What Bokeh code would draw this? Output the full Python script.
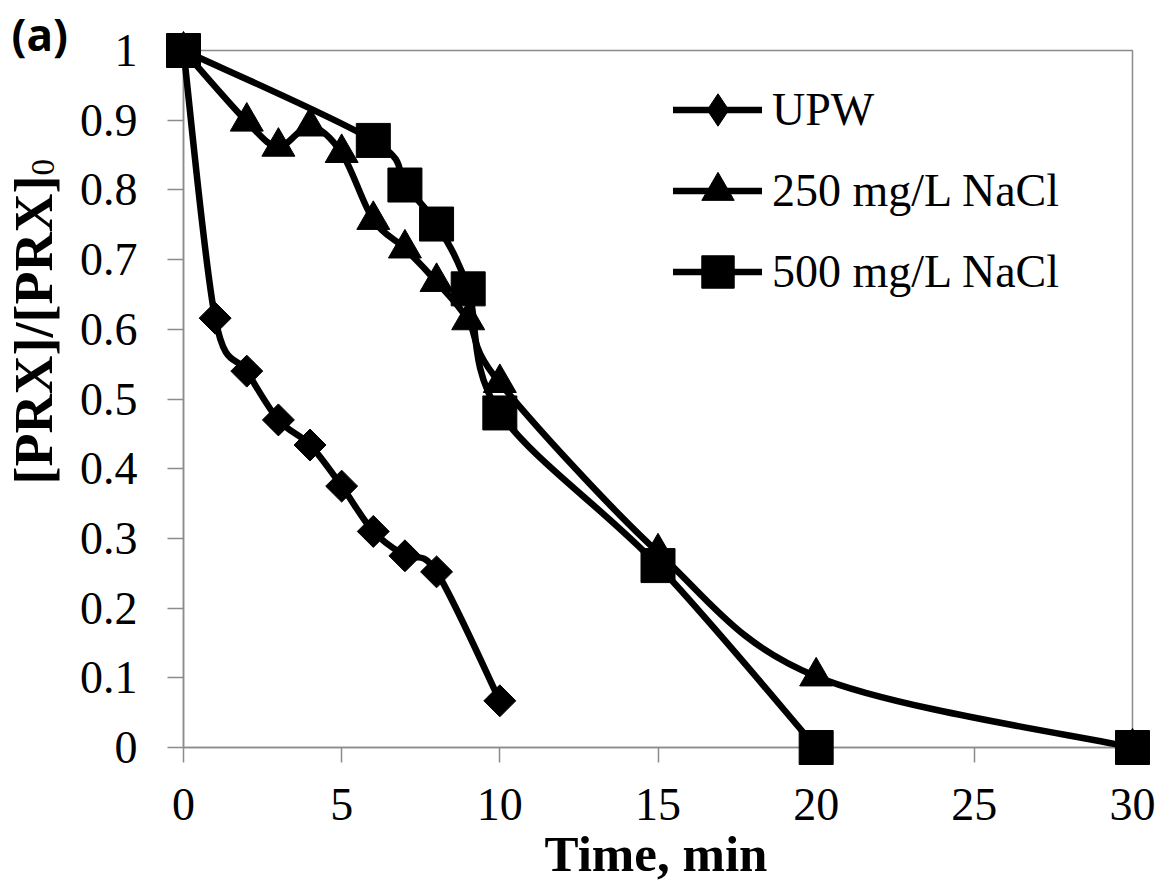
import math
import numpy as np
from bokeh.plotting import figure
from bokeh.models import Legend, LegendItem, FixedTicker, ColumnDataSource
from bokeh.core.properties import value
from bokeh.embed import file_html
from bokeh.resources import INLINE

# ---- data ----
t_upw = [0, 1, 2, 3, 4, 5, 6, 7, 8, 10]
c_upw = [1.0, 0.616, 0.540, 0.470, 0.434, 0.375, 0.310, 0.275, 0.252, 0.067]

t_250 = [0, 2, 3, 4, 5, 6, 7, 8, 9, 10, 15, 20, 30]
c_250 = [1.0, 0.898, 0.862, 0.891, 0.853, 0.757, 0.716, 0.668, 0.613, 0.523, 0.280, 0.102, 0.0]

t_500 = [0, 6, 7, 8, 9, 10, 15, 20, 25, 30]
c_500 = [1.0, 0.871, 0.807, 0.751, 0.658, 0.480, 0.261, 0.0, np.nan, 0.0]

labels = ["UPW", "250 mg/L NaCl", "500 mg/L NaCl"]
x_ticks = [0, 5, 10, 15, 20, 25, 30]
y_ticks = [0, 0.1, 0.2, 0.3, 0.4, 0.5, 0.6, 0.7, 0.8, 0.9, 1.0]
y_tick_labels = ["0", "0.1", "0.2", "0.3", "0.4", "0.5", "0.6", "0.7", "0.8", "0.9", "1"]
x_title = "Time, min"
y_title = "[PRX]/[PRX]"
y_title_sub = "0"
panel_tag = "(a)"

SERIF = "Liberation Serif"
GRAY = "#8c8c8c"
LW = 6.5


def smooth(xs, ys):
    """Excel-like smoothed line: cubic Bezier segments (Catmull-Rom control points)."""
    runs, cur = [], []
    for x, y in zip(xs, ys):
        if y is None or (isinstance(y, float) and math.isnan(y)):
            if cur:
                runs.append(cur)
            cur = []
        else:
            cur.append((x, y))
    if cur:
        runs.append(cur)
    d = dict(x0=[], y0=[], x1=[], y1=[], cx0=[], cy0=[], cx1=[], cy1=[])
    for run in runs:
        n = len(run)
        for i in range(n - 1):
            p0 = run[i - 1] if i > 0 else run[i]
            p1 = run[i]
            p2 = run[i + 1]
            p3 = run[i + 2] if i + 2 < n else run[i + 1]
            d["x0"].append(p1[0]); d["y0"].append(p1[1])
            d["x1"].append(p2[0]); d["y1"].append(p2[1])
            d["cx0"].append(p1[0] + (p2[0] - p0[0]) / 6.0)
            d["cy0"].append(p1[1] + (p2[1] - p0[1]) / 6.0)
            d["cx1"].append(p2[0] - (p3[0] - p1[0]) / 6.0)
            d["cy1"].append(p2[1] - (p3[1] - p1[1]) / 6.0)
    return ColumnDataSource(d)


p = figure(width=1165, height=884, x_range=(0, 30), y_range=(0, 1),
           output_backend="svg", toolbar_location=None,
           min_border_left=183, min_border_right=33,
           min_border_top=50, min_border_bottom=137)
p.title.visible = False
p.xgrid.visible = False
p.ygrid.visible = False
p.outline_line_color = GRAY
p.outline_line_width = 1.5
p.background_fill_color = "white"
p.border_fill_color = "white"

for ax in (p.xaxis[0], p.yaxis[0]):
    ax.axis_line_color = GRAY
    ax.axis_line_width = 1.5
    ax.major_tick_line_color = GRAY
    ax.major_tick_line_width = 1.5
    ax.minor_tick_line_color = None
    ax.major_tick_in = 0
    ax.major_label_text_font = SERIF
    ax.major_label_text_font_size = "46px"
    ax.major_label_text_color = "black"

p.xaxis.ticker = FixedTicker(ticks=x_ticks)
p.xaxis.major_tick_out = 15
p.xaxis.major_label_standoff = 26

p.yaxis.ticker = FixedTicker(ticks=y_ticks)
p.yaxis.major_label_overrides = dict(zip(y_ticks, y_tick_labels))
p.yaxis.major_tick_out = 16
p.yaxis.major_label_standoff = 30

series = [
    (t_upw, c_upw, "square", 22.6, math.pi / 4),
    (t_250, c_250, "triangle", 33, 0.0),
    (t_500, c_500, "square", 34, 0.0),
]

items = []
for (tx, cy, mk, sz, ang), lab in zip(series, labels):
    src = smooth(tx, cy)
    br = p.bezier(x0="x0", y0="y0", x1="x1", y1="y1", cx0="cx0", cy0="cy0",
                  cx1="cx1", cy1="cy1", source=src, line_color="black",
                  line_width=LW, line_cap="round", level="overlay")
    sr = p.scatter(x=tx, y=cy, marker=mk, size=sz, angle=ang,
                   fill_color="black", line_color="black", line_width=1,
                   level="overlay")
    rends = [br]
    if ang != 0.0:
        # legend sample for the diamond marker (draws nothing in the plot)
        lg = p.scatter(x=[np.nan], y=[np.nan], marker="diamond", size=36,
                       fill_color="black", line_color="black")
        rends.append(lg)
    else:
        rends.append(sr)
    items.append(LegendItem(label=lab, renderers=rends))

legend = Legend(items=items, location=(490, 435), orientation="vertical",
                border_line_color=None, background_fill_alpha=0,
                padding=0, margin=0, spacing=0,
                glyph_width=89, glyph_height=81, label_height=81,
                label_standoff=10, label_text_font=SERIF,
                label_text_font_size="46px", label_text_color="black")
p.add_layout(legend)

# axis titles and panel tag (text glyphs anchored to the frame corners, offsets in px)
x0, x1 = p.x_range.start, p.x_range.end
y0, y1 = p.y_range.start, p.y_range.end
p.text(x=[(x0 + x1) / 2], y=[y0], text=[x_title], x_offset=-2, y_offset=106,
       text_font=value(SERIF), text_font_size=value("51px"),
       text_font_style="bold", text_align="center",
       text_baseline="alphabetic", text_color="black", level="overlay")
p.text(x=[x0], y=[y1], text=[y_title], x_offset=-150, y_offset=125,
       angle=math.pi / 2, text_font=value(SERIF), text_font_size=value("54px"),
       text_font_style="bold", text_align="right",
       text_baseline="alphabetic", text_color="black", level="overlay")
p.text(x=[x0], y=[y1], text=[y_title_sub], x_offset=-141, y_offset=125,
       angle=math.pi / 2, text_font=value(SERIF), text_font_size=value("33px"),
       text_align="left", text_baseline="alphabetic", text_color="black",
       level="overlay")
p.text(x=[x0], y=[y1], text=[panel_tag], x_offset=-172, y_offset=-17,
       text_font=value("Open Sans"), text_font_size=value("44px"),
       text_font_style="bold", text_align="left", text_baseline="middle",
       text_color="black", level="overlay")

open("out.html", "w").write(file_html(p, INLINE))
